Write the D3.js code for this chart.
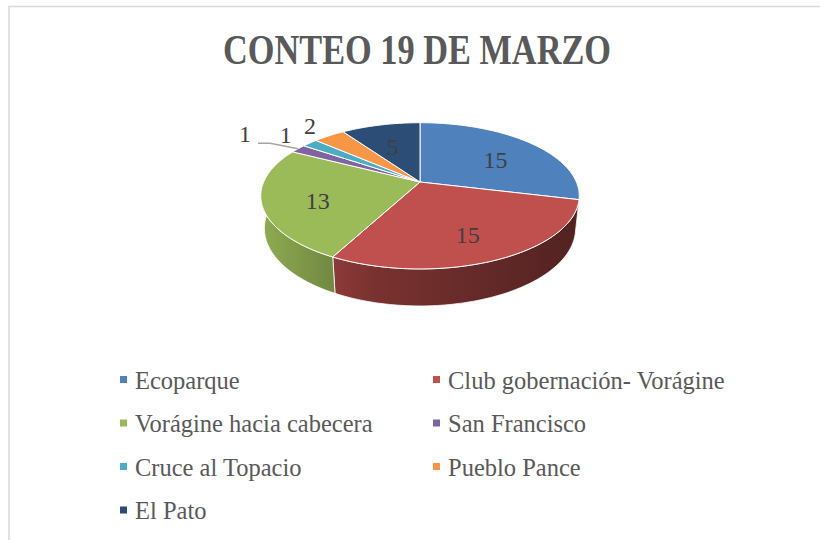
<!DOCTYPE html>
<html>
<head>
<meta charset="utf-8">
<script src="https://cdn.jsdelivr.net/npm/d3@7"></script>
<style>
  body { margin: 0; background: #fff; }
  svg { display: block; }
</style>
</head>
<body>
<div id="chart"></div>
<script>
// data
const categories = ["Ecoparque", "Club gobernación- Vorágine", "Vorágine hacia cabecera",
                    "San Francisco", "Cruce al Topacio", "Pueblo Pance", "El Pato"];
const values = [15, 15, 13, 1, 1, 2, 5];
const colors = ["#4F81BD", "#C0504D", "#9BBB59", "#8064A2", "#4BACC6", "#F79646", "#2C4D75"];
const title = "CONTEO 19 DE MARZO";

const W = 820, H = 540;
const svg = d3.select("#chart").append("svg")
    .attr("width", W).attr("height", H);
const defs = svg.append("defs");

// frame
svg.append("path")
    .attr("d", "M9,540 V6.5 H820")
    .attr("fill", "none").attr("stroke", "#d9d9d9").attr("stroke-width", 1.5);

svg.append("text")
    .attr("x", 417).attr("y", 64)
    .attr("text-anchor", "middle")
    .attr("font-family", "Liberation Serif, serif")
    .attr("font-weight", "bold")
    .attr("font-size", 43)
    .attr("fill", "#595959")
    .attr("textLength", 388).attr("lengthAdjust", "spacingAndGlyphs")
    .text(title);

// perspective projection of the pie disk
const cx = 420, cy = 182;
const tilt = 26.8 * Math.PI / 180, dist = 4.72, focal = 738, depth = 0.235;
const sT = Math.sin(tilt), cT = Math.cos(tilt);
function project(angle, r, z) {
    const u = Math.sin(angle) * r, v = Math.cos(angle) * r;
    const Y = v * sT + z * cT;
    const D = dist + v * cT - z * sT;
    return [cx + focal * u / D, cy - focal * Y / D];
}

const pie = d3.pie().sort(null).value(d => d)(values);
const line = d3.line();

function arcPoints(a0, a1, r, z) {
    const n = Math.max(2, Math.ceil((a1 - a0) / 0.02));
    return d3.range(n + 1).map(i => project(a0 + (a1 - a0) * i / n, r, z));
}

// side walls (front half only: angles between PI/2 and 3PI/2)
const gSide = svg.append("g");
pie.forEach((p, i) => {
    const a0 = Math.max(p.startAngle, Math.PI / 2);
    const a1 = Math.min(p.endAngle, 3 * Math.PI / 2);
    if (a1 <= a0) return;
    const base = d3.color(colors[i]);
    const gid = "side" + i;
    const grad = defs.append("linearGradient")
        .attr("id", gid).attr("gradientUnits", "userSpaceOnUse")
        .attr("x1", 262).attr("x2", 578).attr("y1", 0).attr("y2", 0);
    grad.append("stop").attr("offset", 0).attr("stop-color", base.darker(0.25));
    grad.append("stop").attr("offset", 0.35).attr("stop-color", base.darker(1.3));
    grad.append("stop").attr("offset", 1).attr("stop-color", base.darker(2.4));
    const top = arcPoints(a0, a1, 1, 0);
    const bot = arcPoints(a0, a1, 1, -depth).reverse();
    gSide.append("path")
        .attr("d", line(top.concat(bot)) + "Z")
        .attr("fill", `url(#${gid})`)
        .attr("stroke", "#fff").attr("stroke-width", 0.8).attr("stroke-linejoin", "round");
});

// top faces
const gTop = svg.append("g");
pie.forEach((p, i) => {
    const pts = [project(0, 0, 0)].concat(arcPoints(p.startAngle, p.endAngle, 1, 0));
    gTop.append("path")
        .attr("d", line(pts) + "Z")
        .attr("fill", colors[i])
        .attr("stroke", "#fff").attr("stroke-width", 1).attr("stroke-linejoin", "round");
});

// data labels
const gLab = svg.append("g")
    .attr("font-family", "Liberation Serif, serif")
    .attr("font-size", 24)
    .attr("fill", "#404040");
let prev = null;
pie.slice().reverse().forEach(p => {
    const mid = (p.startAngle + p.endAngle) / 2;
    const share = (p.endAngle - p.startAngle) / (2 * Math.PI);
    let pos;
    if (share > 0.06) {
        pos = project(mid, 0.66, 0);
        pos[1] += 5;
    } else {
        pos = project(mid, 1.25, 0);
        if (prev && Math.hypot(pos[0] - prev[0], pos[1] - prev[1]) < 20) {
            pos = project(mid, 1.5, 0);
            const edge = project(mid, 1, 0);
            gLab.append("polyline")
                .attr("points", [edge, [pos[0] + 25, pos[1] + 9], [pos[0] + 13, pos[1] + 9]].join(" "))
                .attr("fill", "none").attr("stroke", "#a6a6a6").attr("stroke-width", 1.5);
        }
        prev = pos;
    }
    gLab.append("text")
        .attr("x", pos[0]).attr("y", pos[1])
        .attr("text-anchor", "middle")
        .attr("dominant-baseline", "central")
        .text(p.data);
});

// legend
const legend = svg.append("g")
    .attr("font-family", "Liberation Serif, serif")
    .attr("font-size", 24.5)
    .attr("fill", "#595959");
const colX = [120, 433], row0 = 380, rowH = 43.5;
categories.forEach((c, i) => {
    const x = colX[i % 2], y = row0 + Math.floor(i / 2) * rowH;
    legend.append("rect")
        .attr("x", x).attr("y", y - 4).attr("width", 7).attr("height", 7)
        .attr("fill", colors[i]);
    legend.append("text")
        .attr("x", x + 15).attr("y", y)
        .attr("dominant-baseline", "central")
        .text(c);
});
</script>
</body>
</html>
